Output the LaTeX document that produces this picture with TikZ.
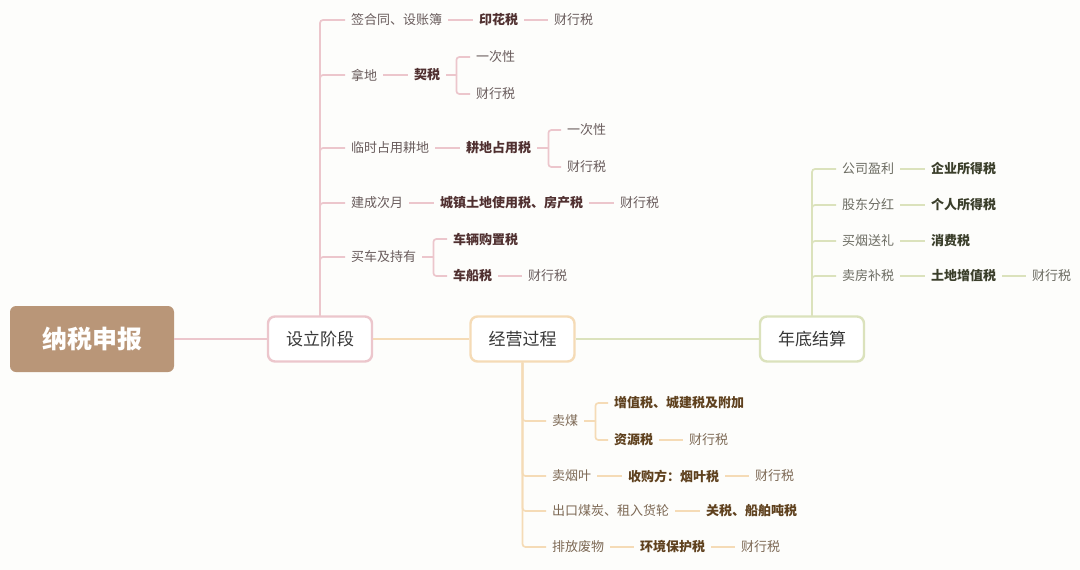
\documentclass[tikz,border=0pt]{standalone}
\usepackage{fontspec}
\newfontfamily\cjk{Noto Sans CJK SC}
\usetikzlibrary{calc}
\definecolor{bgc}{RGB}{253,253,251}
\definecolor{rootfill}{RGB}{185,150,120}
\definecolor{pinkc}{RGB}{236,198,204}
\definecolor{orangec}{RGB}{245,219,182}
\definecolor{greenc}{RGB}{219,226,188}
\definecolor{headtext}{RGB}{55,55,55}
\definecolor{pinktext}{RGB}{105,92,92}
\definecolor{pinkbold}{RGB}{80,48,48}
\definecolor{orangetext}{RGB}{125,105,85}
\definecolor{orangebold}{RGB}{95,65,30}
\definecolor{greentext}{RGB}{108,108,98}
\definecolor{greenbold}{RGB}{58,62,42}
\tikzset{
  rootbox/.style={rounded corners=6pt, fill=rootfill, draw=none, minimum width=164pt, minimum height=66pt,
    text=white, font=\cjk\bfseries\fontsize{25}{25}\selectfont},
  stagebox/.style={rounded corners=7pt, fill=white, line width=2.4pt, minimum width=104pt, minimum height=45pt,
    text=headtext, font=\cjk\fontsize{17}{17}\selectfont},
  leafbase/.style={anchor=west, inner xsep=6pt, inner ysep=2pt, font=\cjk\fontsize{13}{13}\selectfont},
  nA/.style={leafbase, text=pinktext},
  bA/.style={leafbase, text=pinkbold, font=\cjk\bfseries\fontsize{13}{13}\selectfont},
  nB/.style={leafbase, text=orangetext},
  bB/.style={leafbase, text=orangebold, font=\cjk\bfseries\fontsize{13}{13}\selectfont},
  nC/.style={leafbase, text=greentext},
  bC/.style={leafbase, text=greenbold, font=\cjk\bfseries\fontsize{13}{13}\selectfont},
  pinkline/.style={draw=pinkc, line width=1.7pt, rounded corners=3pt},
  orangeline/.style={draw=orangec, line width=1.7pt, rounded corners=3pt},
  greenline/.style={draw=greenc, line width=1.7pt, rounded corners=3pt},
}
\begin{document}
\begin{tikzpicture}[x=1pt,y=-1pt]
\fill[bgc] (0,0) rectangle (1080,570);
\useasboundingbox (0,0) rectangle (1080,570);

% main nodes
\node[rootbox] (root) at (92,339) {纳税申报};
\node[stagebox, draw=pinkc] (s1) at (320,339) {设立阶段};
\node[stagebox, draw=orangec] (s2) at (522.5,339) {经营过程};
\node[stagebox, draw=greenc] (s3) at (812,339) {年底结算};

\draw[pinkline] (root.east) -- (s1.west);
\draw[orangeline] (s1.east) -- (s2.west);
\draw[greenline] (s2.east) -- (s3.west);

% ---------- 设立阶段 ----------
\node[nA] (a1) at (345,20) {签合同、设账簿};
\node[bA] (a1t) at (473,20) {印花税};
\node[nA] (a1c) at (548,20) {财行税};

\node[nA] (a2) at (345,75) {拿地};
\node[bA] (a2t) at (408,75) {契税};
\node[nA] (a2x) at (470,57) {一次性};
\node[nA] (a2y) at (470,94) {财行税};

\node[nA] (a3) at (345,148) {临时占用耕地};
\node[bA] (a3t) at (460,148) {耕地占用税};
\node[nA] (a3x) at (561,130) {一次性};
\node[nA] (a3y) at (561,167) {财行税};

\node[nA] (a4) at (345,203) {建成次月};
\node[bA] (a4t) at (434,203) {城镇土地使用税、房产税};
\node[nA] (a4c) at (614,203) {财行税};

\node[nA] (a5) at (345,257) {买车及持有};
\node[bA] (a5x) at (447,239) {车辆购置税};
\node[bA] (a5y) at (447,276) {车船税};
\node[nA] (a5c) at (522,276) {财行税};

\foreach \c in {a1,a2,a3,a4,a5} \draw[pinkline] (s1.north) |- (\c.west);
\draw[pinkline] (a1.east) -- (a1t.west);
\draw[pinkline] (a1t.east) -- (a1c.west);
\draw[pinkline] (a2.east) -- (a2t.west);
\draw[pinkline] (a2t.east) -- ++(10,0) coordinate (a2b);
\draw[pinkline] (a2b) |- (a2x.west);
\draw[pinkline] (a2b) |- (a2y.west);
\draw[pinkline] (a3.east) -- (a3t.west);
\draw[pinkline] (a3t.east) -- ++(11,0) coordinate (a3b);
\draw[pinkline] (a3b) |- (a3x.west);
\draw[pinkline] (a3b) |- (a3y.west);
\draw[pinkline] (a4.east) -- (a4t.west);
\draw[pinkline] (a4t.east) -- (a4c.west);
\draw[pinkline] (a5.east) -- ++(11,0) coordinate (a5b);
\draw[pinkline] (a5b) |- (a5x.west);
\draw[pinkline] (a5b) |- (a5y.west);
\draw[pinkline] (a5y.east) -- (a5c.west);

% ---------- 经营过程 ----------
\node[nB] (b1) at (546,421) {卖煤};
\node[bB] (b1x) at (608,403) {增值税、城建税及附加};
\node[bB] (b1y) at (608,440) {资源税};
\node[nB] (b1c) at (683,440) {财行税};

\node[nB] (b2) at (546,476) {卖烟叶};
\node[bB] (b2t) at (622,476) {收购方：烟叶税};
\node[nB] (b2c) at (749,476) {财行税};

\node[nB] (b3) at (546,511) {出口煤炭、租入货轮};
\node[bB] (b3t) at (700,511) {关税、船舶吨税};

\node[nB] (b4) at (546,547) {排放废物};
\node[bB] (b4t) at (634,547) {环境保护税};
\node[nB] (b4c) at (735,547) {财行税};

\foreach \c in {b1,b2,b3,b4} \draw[orangeline] (s2.south) |- (\c.west);
\draw[orangeline] (b1.east) -- ++(11,0) coordinate (b1b);
\draw[orangeline] (b1b) |- (b1x.west);
\draw[orangeline] (b1b) |- (b1y.west);
\draw[orangeline] (b1y.east) -- (b1c.west);
\draw[orangeline] (b2.east) -- (b2t.west);
\draw[orangeline] (b2t.east) -- (b2c.west);
\draw[orangeline] (b3.east) -- (b3t.west);
\draw[orangeline] (b4.east) -- (b4t.west);
\draw[orangeline] (b4t.east) -- (b4c.west);

% ---------- 年底结算 ----------
\node[nC] (c1) at (836,169) {公司盈利};
\node[bC] (c1t) at (925,169) {企业所得税};
\node[nC] (c2) at (836,205) {股东分红};
\node[bC] (c2t) at (925,205) {个人所得税};
\node[nC] (c3) at (836,241) {买烟送礼};
\node[bC] (c3t) at (925,241) {消费税};
\node[nC] (c4) at (836,276) {卖房补税};
\node[bC] (c4t) at (925,276) {土地增值税};
\node[nC] (c4c) at (1026,276) {财行税};

\foreach \c in {c1,c2,c3,c4} \draw[greenline] (s3.north) |- (\c.west);
\draw[greenline] (c1.east) -- (c1t.west);
\draw[greenline] (c2.east) -- (c2t.west);
\draw[greenline] (c3.east) -- (c3t.west);
\draw[greenline] (c4.east) -- (c4t.west);
\draw[greenline] (c4t.east) -- (c4c.west);
\end{tikzpicture}
\end{document}
